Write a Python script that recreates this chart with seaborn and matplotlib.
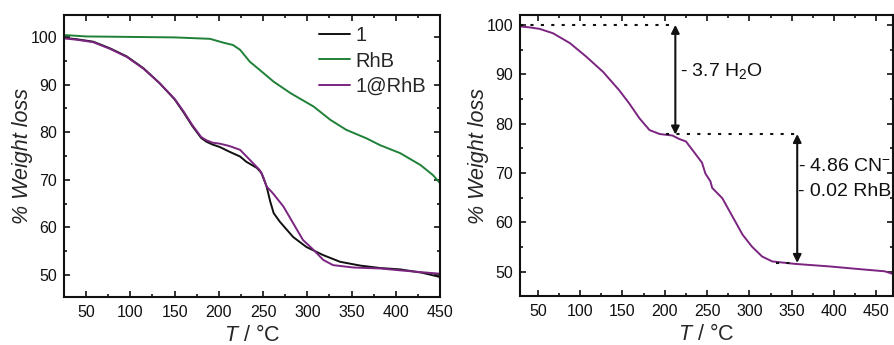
import numpy as np
import pandas as pd
import matplotlib
matplotlib.use("Agg")
import matplotlib.pyplot as plt
import seaborn as sns
from matplotlib.ticker import MultipleLocator

# ---- data: left panel ----
t_1 = [25, 40, 58, 77, 96, 115, 133, 150, 160, 170, 180, 186, 193, 201, 212, 224, 231, 243, 248, 254, 258, 262, 269, 284, 299, 318, 337, 360, 382, 405, 430, 450]
w_1 = [99.8, 99.5, 99.0, 97.6, 95.9, 93.4, 90.3, 86.9, 84.2, 81.3, 78.8, 78.0, 77.4, 76.9, 75.9, 74.9, 73.8, 72.5, 71.5, 68.6, 65.5, 63.0, 61.2, 58.0, 55.9, 54.2, 52.8, 52.0, 51.5, 51.2, 50.5, 49.6]

t_rhb = [25, 50, 100, 150, 190, 205, 216, 224, 235, 246, 262, 281, 307, 326, 344, 367, 382, 405, 428, 442, 450]
w_rhb = [100.4, 100.1, 100.0, 99.9, 99.6, 98.8, 98.3, 97.3, 94.8, 93.1, 90.6, 88.2, 85.4, 82.6, 80.5, 78.7, 77.3, 75.6, 73.1, 71.0, 69.3]

t_1rhb = [25, 40, 58, 77, 96, 115, 133, 150, 160, 170, 180, 186, 193, 201, 212, 224, 235, 246, 250, 254, 261, 273, 284, 295, 307, 318, 329, 352, 382, 405, 430, 450]
w_1rhb = [99.7, 99.4, 98.9, 97.5, 95.8, 93.3, 90.3, 87.0, 84.4, 81.5, 79.0, 78.3, 77.8, 77.6, 77.1, 76.3, 74.2, 72.1, 70.7, 68.6, 67.2, 64.4, 60.9, 57.4, 55.3, 53.2, 52.1, 51.6, 51.4, 51.0, 50.6, 50.3]

# ---- data: right panel ----
t_r = [29, 40, 52, 68, 88, 107, 127, 146, 158, 170, 182, 194, 209, 217, 225, 233, 244, 248, 254, 256, 268, 280, 292, 303, 315, 327, 354, 394, 433, 460, 469]
w_r = [99.7, 99.5, 99.2, 98.3, 96.3, 93.6, 90.5, 86.8, 84.1, 81.1, 78.7, 77.9, 77.6, 76.9, 76.4, 74.6, 72.1, 69.9, 68.3, 67.0, 64.9, 61.2, 57.5, 55.1, 53.1, 52.1, 51.6, 51.1, 50.5, 50.1, 49.6]

labels = ["1", "RhB", "1@RhB"]
colors = ["#111111", "#1f8038", "#7b2480"]

df_left = pd.concat([
    pd.DataFrame({"T": t_1, "w": w_1, "s": labels[0]}),
    pd.DataFrame({"T": t_rhb, "w": w_rhb, "s": labels[1]}),
    pd.DataFrame({"T": t_1rhb, "w": w_1rhb, "s": labels[2]}),
])
df_right = pd.DataFrame({"T": t_r, "w": w_r})

sns.set_theme(style="ticks")
plt.rcParams["font.family"] = ["Liberation Sans", "DejaVu Sans"]
plt.rcParams["mathtext.fontset"] = "custom"
plt.rcParams["mathtext.rm"] = "Liberation Sans"
plt.rcParams["mathtext.it"] = "Liberation Sans:italic"

fig = plt.figure(figsize=(8.94, 3.45), dpi=100)
ax1 = fig.add_axes([0.0716, 0.139, 0.4206, 0.8175])
ax2 = fig.add_axes([0.5817, 0.142, 0.4175, 0.8145])

sns.lineplot(data=df_left, x="T", y="w", hue="s", palette=dict(zip(labels, colors)),
             ax=ax1, linewidth=1.4, sort=False, estimator=None)
sns.lineplot(data=df_right, x="T", y="w", ax=ax2, color=colors[2], linewidth=1.4,
             sort=False, estimator=None)

ax1.set_xlim(25, 450)
ax1.set_ylim(45.4, 104.6)
ax2.set_xlim(29, 470)
ax2.set_ylim(45.1, 102)

for ax in (ax1, ax2):
    ax.xaxis.set_major_locator(MultipleLocator(50))
    ax.xaxis.set_minor_locator(MultipleLocator(25))
    ax.yaxis.set_major_locator(MultipleLocator(10))
    ax.yaxis.set_minor_locator(MultipleLocator(5))
    ax.tick_params(which="both", direction="in", top=True, right=True,
                   labelsize=11.5, width=1.2, colors="#111111")
    ax.tick_params(which="major", length=4.5)
    ax.tick_params(which="minor", length=2.5)
    ax.tick_params(axis="x", which="both", pad=6)
    ax.tick_params(axis="y", which="both", pad=5)
    for sp in ax.spines.values():
        sp.set_linewidth(1.5)
        sp.set_color("#111111")
    ax.set_xlabel(r"$\it{T}$ / °C", fontsize=15.5, labelpad=3.5)
    ax.set_ylabel("% Weight loss", fontsize=15.5, style="italic", labelpad=-2)

leg = ax1.legend(loc="upper right", frameon=False, fontsize=14.5, handlelength=1.5,
                 handletextpad=0.3, labelspacing=0.33, borderaxespad=0.0,
                 bbox_to_anchor=(0.985, 0.99))

# annotations on right panel
ax2.plot([29, 209], [99.9, 99.9], ls=(0, (1.5, 3.5)), color="#111111", lw=1.5)
ax2.plot([201, 355], [77.9, 77.9], ls=(0, (1.5, 3.5)), color="#111111", lw=1.5)
ax2.plot([331, 356], [51.8, 51.8], ls=(0, (1.5, 3.5)), color="#111111", lw=1.5)
ax2.annotate("", xy=(212.5, 77.8), xytext=(212.5, 100),
             arrowprops=dict(arrowstyle="<|-|>", color="#111111", lw=1.5,
                             mutation_scale=12, shrinkA=0, shrinkB=0))
ax2.annotate("", xy=(356.5, 51.8), xytext=(356.5, 77.9),
             arrowprops=dict(arrowstyle="<|-|>", color="#111111", lw=1.5,
                             mutation_scale=12, shrinkA=0, shrinkB=0))
ax2.text(218, 90.6, r"- 3.7 H$_{2}$O", fontsize=14, va="center", ha="left", color="#111111")
ax2.text(358, 71.4, r"- 4.86 CN$^{-}$", fontsize=14, va="center", ha="left", color="#111111")
ax2.text(358, 66.3, "- 0.02 RhB", fontsize=14, va="center", ha="left", color="#111111")

fig.savefig("out.png", dpi=100)
